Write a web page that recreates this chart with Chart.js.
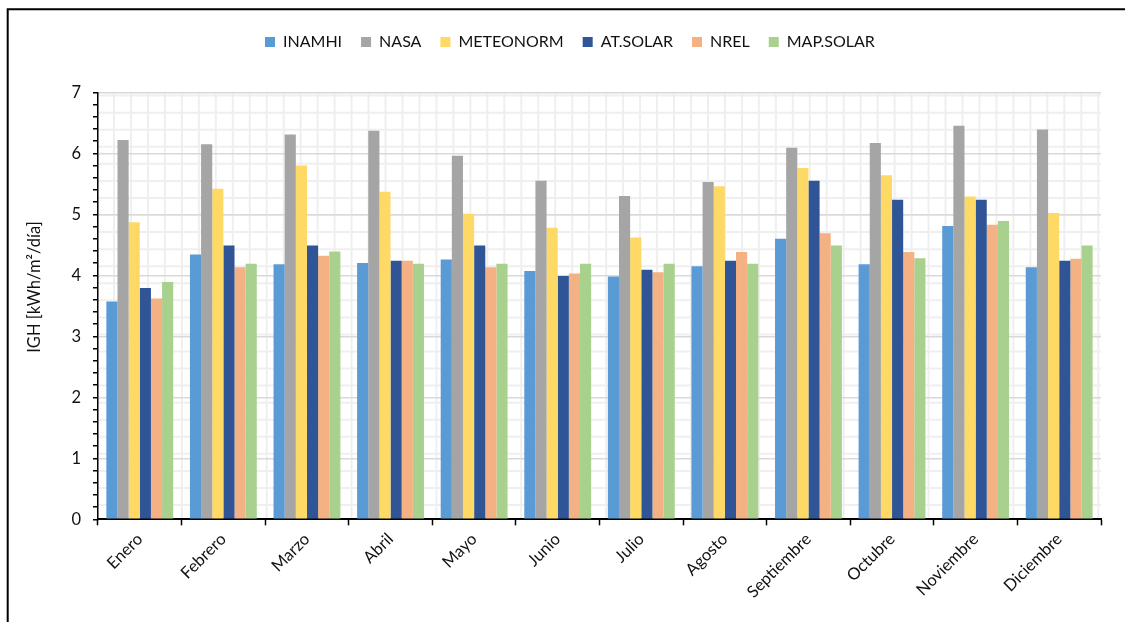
<!DOCTYPE html>
<html lang="es">
<head>
<meta charset="utf-8">
<title>IGH mensual por fuente</title>
<script src="https://cdn.jsdelivr.net/npm/chart.js@4.4.1/dist/chart.umd.min.js"></script>
<style>
  html, body { margin: 0; padding: 0; background: #ffffff; }
  #wrap { width: 1125px; height: 622px; }
</style>
</head>
<body>
<div id="wrap"><canvas id="igh" width="1125" height="622"></canvas></div>
<script>
// Monthly global horizontal irradiation, kWh/m²/día, by data source
const months = ['Enero', 'Febrero', 'Marzo', 'Abril', 'Mayo', 'Junio', 'Julio',
                'Agosto', 'Septiembre', 'Octubre', 'Noviembre', 'Diciembre'];

const inamhi    = [3.57, 4.34, 4.18, 4.20, 4.26, 4.07, 3.98, 4.15, 4.60, 4.18, 4.81, 4.13];
const nasa      = [6.22, 6.15, 6.31, 6.37, 5.96, 5.55, 5.30, 5.53, 6.09, 6.17, 6.45, 6.39];
const meteonorm = [4.87, 5.42, 5.80, 5.37, 5.01, 4.78, 4.62, 5.46, 5.76, 5.64, 5.29, 5.02];
const atSolar   = [3.79, 4.49, 4.49, 4.24, 4.49, 3.99, 4.09, 4.24, 5.55, 5.24, 5.24, 4.24];
const nrel      = [3.62, 4.13, 4.32, 4.24, 4.13, 4.03, 4.05, 4.38, 4.69, 4.38, 4.83, 4.27];
const mapSolar  = [3.89, 4.19, 4.39, 4.19, 4.19, 4.19, 4.19, 4.19, 4.49, 4.28, 4.89, 4.49];

const seriesNames = ['INAMHI', 'NASA', 'METEONORM', 'AT.SOLAR', 'NREL', 'MAP.SOLAR'];
const seriesColors = ['#5B9BD5', '#A5A5A5', '#FFD966', '#2F5597', '#F4B183', '#A9D18E'];
const seriesValues = [inamhi, nasa, meteonorm, atSolar, nrel, mapSolar];

// y axis: labelled major ticks, with minor tick marks in between
const yMajorTicks = [0, 1, 2, 3, 4, 5, 6, 7];
const yMinorDivisions = 5;
const yTitle = 'IGH [kWh/m²/día]';

const FONT = 'Lato, "Open Sans", "DejaVu Sans", sans-serif';
const FONT_SIZE = 16.5;
const LEGEND_FONT_SIZE = 16;
const TEXT = '#111111';

// layout constants
const PLOT_TOP = 92.3;
const PLOT_BOTTOM = 519.3;
const PLOT_LEFT = 98;
const PAD_TOP = 15;
const PAD_RIGHT = 24;
const LEGEND_FIRST_X = 265;

const isMajor = (c) => c.tick && c.tick.major;

const frame = {
  id: 'frame',
  beforeLayout(chart) {
    const lg = chart.legend;
    if (lg && !lg._bandFit) {
      const fit = lg.fit;
      lg.fit = function () { fit.call(this); this.height = PLOT_TOP - PAD_TOP; };
      lg._bandFit = true;
    }
  },
  afterLayout(chart) {
    const lg = chart.legend;
    if (!lg || !lg.lineWidths) return;
    const p = lg.options.labels.padding;
    const x0 = (lg.left + p + lg.right - lg.lineWidths[0]) / 2;
    const dx = LEGEND_FIRST_X - x0;
    lg.left += dx;
    lg.right += dx;
  },
  beforeDraw(chart) {
    const { ctx, chartArea: a } = chart;
    ctx.save();
    ctx.fillStyle = '#ffffff';
    ctx.fillRect(0, 0, chart.width, chart.height);

    // outer frame
    ctx.strokeStyle = '#000000';
    ctx.lineWidth = 2;
    ctx.beginPath();
    ctx.moveTo(7.7, chart.height);
    ctx.lineTo(7.7, 9.3);
    ctx.lineTo(chart.width, 9.3);
    ctx.stroke();

    // small-grid fill of the plot area
    ctx.strokeStyle = '#efefef';
    ctx.lineWidth = 2;
    ctx.beginPath();
    for (let x = a.left + 16; x < a.right; x += 16.97) {
      ctx.moveTo(x, a.top);
      ctx.lineTo(x, a.bottom);
    }
    for (let y = a.top + 3.3; y < a.bottom; y += 17.06) {
      ctx.moveTo(a.left, y);
      ctx.lineTo(a.right, y);
    }
    ctx.stroke();
    ctx.restore();
  },
  afterDraw(chart) {
    const { ctx } = chart;
    ctx.save();
    ctx.translate(35, 287);
    ctx.rotate(-Math.PI / 2);
    ctx.font = `${FONT_SIZE}px ${FONT}`;
    ctx.fillStyle = TEXT;
    ctx.textAlign = 'center';
    ctx.textBaseline = 'middle';
    ctx.fillText(yTitle, 0, 0);
    ctx.restore();
  }
};

function draw() {
  Chart.defaults.font.family = FONT;
  Chart.defaults.font.size = FONT_SIZE;
  Chart.defaults.color = TEXT;

  new Chart(document.getElementById('igh'), {
    type: 'bar',
    data: {
      labels: months,
      datasets: seriesNames.map((name, i) => ({
        label: name,
        data: seriesValues[i],
        backgroundColor: seriesColors[i],
        borderWidth: 0,
        categoryPercentage: 0.8,
        barPercentage: 1.0
      }))
    },
    options: {
      responsive: false,
      animation: false,
      devicePixelRatio: 1,
      layout: { padding: { top: PAD_TOP, right: PAD_RIGHT, bottom: 0, left: 0 } },
      plugins: {
        tooltip: { enabled: false },
        legend: {
          position: 'top',
          labels: {
            boxWidth: 10,
            boxHeight: 10,
            padding: 19,
            color: TEXT,
            font: { size: LEGEND_FONT_SIZE, family: FONT },
            generateLabels(chart) {
              return Chart.defaults.plugins.legend.labels.generateLabels(chart)
                .map(l => Object.assign(l, { lineWidth: 0, strokeStyle: 'rgba(0,0,0,0)' }));
            }
          }
        }
      },
      scales: {
        x: {
          grid: {
            offset: true,
            drawOnChartArea: false,
            drawTicks: true,
            tickLength: 6,
            tickColor: '#000000',
            tickWidth: 1.5
          },
          border: { color: '#000000', width: 2 },
          ticks: {
            autoSkip: false,
            maxRotation: 45,
            minRotation: 45,
            padding: 4,
            color: TEXT,
            font: { size: FONT_SIZE }
          },
          afterFit(scale) { scale.height = scale.chart.height - PLOT_BOTTOM; }
        },
        y: {
          min: yMajorTicks[0],
          max: yMajorTicks[yMajorTicks.length - 1],
          afterBuildTicks(scale) {
            const t = [];
            yMajorTicks.forEach((v, i) => {
              t.push({ value: v, major: true });
              if (i < yMajorTicks.length - 1) {
                const step = (yMajorTicks[i + 1] - v) / yMinorDivisions;
                for (let k = 1; k < yMinorDivisions; k++) t.push({ value: v + k * step, major: false });
              }
            });
            scale.ticks = t;
          },
          grid: {
            color: c => (isMajor(c) && c.tick.value > 0) ? '#d9d9d9' : 'rgba(0,0,0,0)',
            lineWidth: 1.5,
            drawTicks: true,
            tickLength: 5,
            tickColor: '#000000',
            tickWidth: 1.5
          },
          border: { color: '#000000', width: 1.5 },
          ticks: {
            autoSkip: false,
            padding: 12,
            color: TEXT,
            font: { size: FONT_SIZE },
            callback(value, index, ticks) {
              return ticks[index].major ? String(value) : '';
            }
          },
          afterFit(scale) { scale.width = PLOT_LEFT; }
        }
      }
    },
    plugins: [frame]
  });
}

if (document.fonts && document.fonts.load) {
  document.fonts.load(`${FONT_SIZE}px Lato`).then(draw, draw);
} else {
  draw();
}
</script>
</body>
</html>
